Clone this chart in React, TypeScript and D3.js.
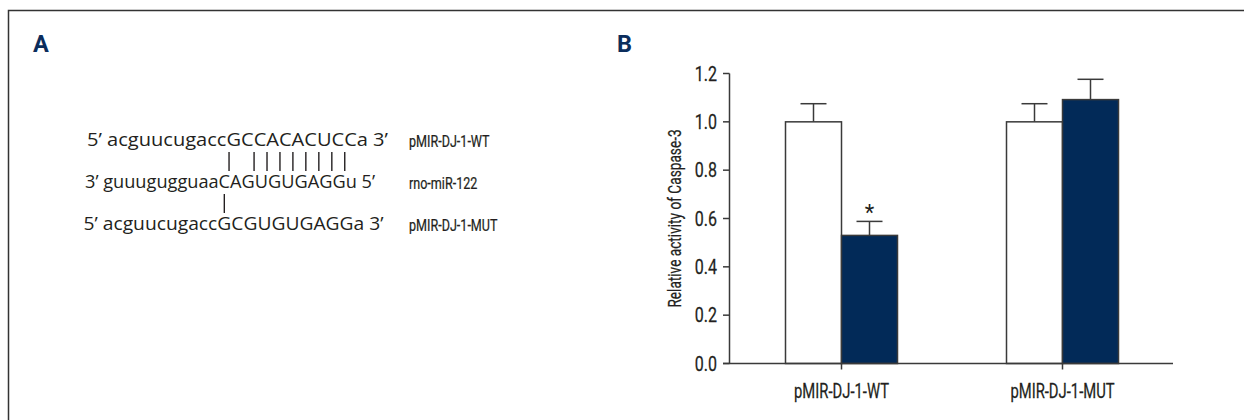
import React, { useLayoutEffect, useRef, useState } from "react";
import * as d3 from "d3";

// ---------- Panel B data ----------
const categories = ["pMIR-DJ-1-WT", "pMIR-DJ-1-MUT"];
const seriesNames = ["Control", "rno-miR-122"];
const controlValues = [1.0, 1.0];
const controlErrors = [0.075, 0.075];
const mirValues = [0.53, 1.092];
const mirErrors = [0.058, 0.084];
const mirSignificance = ["*", ""];
const yTicks = [0, 0.2, 0.4, 0.6, 0.8, 1.0, 1.2];
const yLabel = "Relative activity of Caspase-3";

// ---------- Panel A data ----------
const seqLines = [
  "5\u2019 acguucugaccGCCACACUCCa 3\u2019",
  "3\u2019 guuugugguaaCAGUGUGAGGu 5\u2019",
  "5\u2019 acguucugaccGCGUGUGAGGa 3\u2019",
];
const seqLabels = ["pMIR-DJ-1-WT", "rno-miR-122", "pMIR-DJ-1-MUT"];

// layout / style for the sequence lines
const SEQ_X = [87, 85, 83.5];
const SEQ_W = [301, 290, 300];

const NAVY = "#022a58";
const TEXT = "#231f20";
const AXIS = "#3a3a3a";

const complement: Record<string, string> = { A: "U", U: "A", G: "C", C: "G" };
function pairIndices(a: string, b: string): number[] {
  const out: number[] = [];
  for (let i = 0; i < Math.min(a.length, b.length); i++) {
    const ca = a[i], cb = b[i];
    if (ca >= "A" && ca <= "Z" && cb >= "A" && cb <= "Z" && complement[ca] === cb) out.push(i);
  }
  return out;
}

function Cond(props: any) {
  const { x, y, size, anchor = "start", rotate, children, fill = TEXT, dy, cond = 0.76 } = props;
  return (
    <text
      transform={`translate(${x},${y})${rotate ? ` rotate(${rotate})` : ""} scale(${cond},1)`}
      textAnchor={anchor}
      fontSize={size}
      fontFamily="Roboto, 'Liberation Sans', sans-serif"
      fill={fill}
      dy={dy}
      stroke={fill}
      strokeWidth={0.25}
    >
      {children}
    </text>
  );
}

function SequencePanel() {
  const refs = useRef<(SVGTextElement | null)[]>([]);
  const [centers, setCenters] = useState<number[][]>([]);
  const baseY = d3.scalePoint<number>().domain([0, 1, 2]).range([146, 230]);
  const capH = 13;

  useLayoutEffect(() => {
    const cs = refs.current.map((el) => {
      if (!el) return [];
      const n = el.getNumberOfChars();
      const arr: number[] = [];
      for (let i = 0; i < n; i++) {
        const s = el.getStartPositionOfChar(i).x;
        const e = el.getEndPositionOfChar(i).x;
        arr.push((s + e) / 2);
      }
      return arr;
    });
    setCenters(cs);
  }, []);

  const bars: { x: number; y1: number; y2: number }[] = [];
  if (centers.length === 3) {
    for (let l = 0; l < 2; l++) {
      const idx = pairIndices(seqLines[l], seqLines[l + 1]);
      idx.forEach((i) => {
        const cx = (centers[l][i] + centers[l + 1][i]) / 2;
        bars.push({ x: cx, y1: (baseY(l) as number) + 6, y2: (baseY(l + 1) as number) - capH - 4 });
      });
    }
  }

  return (
    <g>
      {seqLines.map((s, i) => (
        <text
          key={s}
          ref={(el) => (refs.current[i] = el)}
          x={SEQ_X[i]}
          y={baseY(i)}
          fontSize={19}
          fontWeight={500}
          textLength={SEQ_W[i]}
          lengthAdjust="spacingAndGlyphs"
          fontFamily="'Open Sans', 'Noto Sans', sans-serif"
          fill={TEXT}
        >
          {s}
        </text>
      ))}
      {bars.map((b, i) => (
        <line key={i} x1={b.x} x2={b.x} y1={b.y1} y2={b.y2} stroke={TEXT} strokeWidth={1.4} />
      ))}
      {seqLabels.map((s, i) => (
        <Cond key={s} x={409} y={(baseY(i) as number) + 1} size={17} cond={0.74}>
          {s}
        </Cond>
      ))}
    </g>
  );
}

export default function App() {
  const W = 1244, H = 420;
  const y = d3.scaleLinear().domain([0, 1.2]).range([363.5, 73.5]);
  const x0 = d3.scaleBand<string>().domain(categories).range([731, 1173]);
  const x1 = d3.scaleBand<string>().domain(seriesNames).range([-56, 56]);
  const axisX = 729.5;
  const fmt = d3.format(".1f");

  const groups = categories.map((c, i) => ({
    cat: c,
    center: (x0(c) as number) + x0.bandwidth() / 2,
    bars: [
      { s: seriesNames[0], v: controlValues[i], e: controlErrors[i], fill: "#ffffff", sig: "" },
      { s: seriesNames[1], v: mirValues[i], e: mirErrors[i], fill: NAVY, sig: mirSignificance[i] },
    ],
  }));

  return (
    <svg width={W} height={H} style={{ position: "absolute", left: 0, top: 0, background: "#fff" }}>
      <rect x={8.5} y={10.5} width={1400} height={600} fill="#fff" stroke="#333" strokeWidth={1.5} />

      {/* panel letters */}
      <text x={33} y={52} fontSize={23.5} fontWeight={700} fontFamily="Roboto, sans-serif" fill="#0b2d5c">A</text>
      <text x={617} y={52} fontSize={23.5} fontWeight={700} fontFamily="Roboto, sans-serif" fill="#0b2d5c">B</text>

      <SequencePanel />

      {/* bars */}
      {groups.map((g) =>
        g.bars.map((b) => {
          const bx = g.center + (x1(b.s) as number);
          const bw = x1.bandwidth();
          const cx = bx + bw / 2;
          const top = y(b.v);
          const cap = y(b.v + b.e);
          return (
            <g key={g.cat + b.s}>
              <line x1={cx} x2={cx} y1={top} y2={cap} stroke={AXIS} strokeWidth={1.5} />
              <line x1={cx - 13} x2={cx + 13} y1={cap} y2={cap} stroke={AXIS} strokeWidth={1.5} />
              <rect x={bx} y={top} width={bw} height={y(0) - top} fill={b.fill} stroke={AXIS} strokeWidth={1.5} />
              {b.sig && (
                <text x={cx} y={cap - 1} textAnchor="middle" fontSize={22} fontFamily="Roboto, sans-serif" fill={TEXT}>
                  {b.sig}
                </text>
              )}
            </g>
          );
        })
      )}

      {/* y axis */}
      <line x1={axisX} x2={axisX} y1={y(0)} y2={y(1.2)} stroke={AXIS} strokeWidth={1.5} />
      {yTicks.map((t) => (
        <g key={t}>
          <line x1={axisX - 6.5} x2={axisX} y1={y(t)} y2={y(t)} stroke={AXIS} strokeWidth={1.5} />
          <Cond x={717} y={y(t)} size={20} anchor="end" dy="0.36em" cond={0.8}>
            {fmt(t)}
          </Cond>
        </g>
      ))}
      <Cond x={681} y={(y(0) + y(1.2)) / 2} size={18} anchor="middle" rotate={-90} cond={0.76}>
        {yLabel}
      </Cond>

      {/* x axis */}
      <line x1={axisX - 6.5} x2={x0.range()[1]} y1={y(0)} y2={y(0)} stroke={AXIS} strokeWidth={1.5} />
      {groups.map((g) => (
        <g key={g.cat}>
          <line x1={g.center} x2={g.center} y1={y(0)} y2={y(0) + 6} stroke={AXIS} strokeWidth={1.5} />
          <Cond x={g.center} y={398} size={19.5} anchor="middle" cond={0.76}>
            {g.cat}
          </Cond>
        </g>
      ))}
    </svg>
  );
}
